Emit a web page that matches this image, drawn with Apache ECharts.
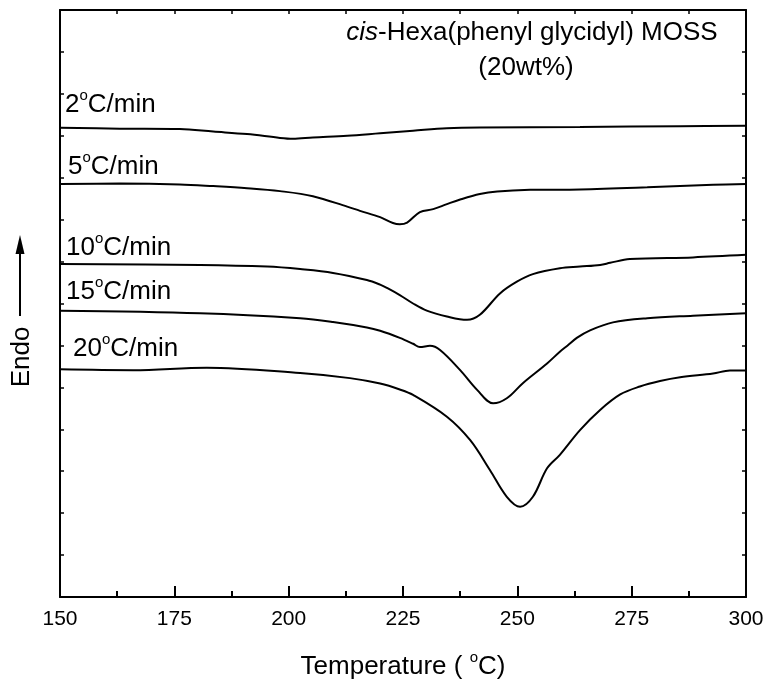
<!DOCTYPE html>
<html><head><meta charset="utf-8">
<script src="https://cdn.jsdelivr.net/npm/echarts@6/dist/echarts.min.js"></script>
<style>html,body{margin:0;padding:0;background:#fff}#c{width:768px;height:687px}</style>
</head><body><div id="c"></div>
<script>
// x axis ticks (°C)
const xMin = 150, xMax = 300, xStep = 25;
// heat flow in arbitrary units (endo up)
const t2  = [150, 163.1, 176.2, 183.5, 190.9, 198.1, 200.9, 205.3, 212.8, 220.0, 227.2, 234.6, 241.8, 263.7, 285.6, 300];
const hf2 = [11.19, 11.17, 11.16, 11.10, 11.04, 10.95, 10.93, 10.96, 11.00, 11.06, 11.12, 11.18, 11.20, 11.21, 11.23, 11.24];

const t5  = [150, 163.1, 176.2, 183.5, 190.9, 198.1, 205.3, 212.8, 215.6, 220.0, 222.8, 224.3, 225.9, 228.7, 231.6, 234.6, 237.5, 241.8, 245.6, 252.8, 263.7, 278.4, 292.8, 300];
const hf5 = [9.85, 9.86, 9.84, 9.80, 9.75, 9.68, 9.56, 9.31, 9.21, 9.06, 8.92, 8.89, 8.93, 9.18, 9.25, 9.37, 9.48, 9.61, 9.67, 9.71, 9.72, 9.77, 9.83, 9.85];

const t10  = [150, 180.6, 195.3, 202.5, 209.7, 217.1, 220.0, 221.5, 224.3, 227.2, 230.2, 234.6, 239.0, 241.8, 246.2, 249.9, 253.4, 259.3, 263.7, 268.1, 270.3, 274.6, 288.4, 300];
const hf10 = [7.94, 7.92, 7.88, 7.82, 7.73, 7.56, 7.45, 7.37, 7.20, 7.00, 6.83, 6.69, 6.61, 6.73, 7.24, 7.52, 7.70, 7.84, 7.88, 7.92, 7.97, 8.06, 8.10, 8.16];

const t15  = [150, 180.6, 202.5, 209.7, 217.1, 220.0, 224.3, 227.2, 228.7, 230.9, 233.1, 237.5, 241.2, 244.7, 247.7, 251.2, 256.5, 259.3, 261.0, 263.0, 265.9, 270.9, 278.4, 288.4, 300];
const hf15 = [6.83, 6.77, 6.65, 6.56, 6.43, 6.35, 6.18, 6.04, 5.96, 5.99, 5.89, 5.41, 4.94, 4.62, 4.74, 5.10, 5.57, 5.85, 6.00, 6.18, 6.36, 6.55, 6.65, 6.71, 6.77];

const t20  = [150, 166.0, 182.1, 202.5, 213.4, 220.0, 224.3, 227.2, 234.6, 239.7, 244.0, 247.7, 250.6, 253.4, 256.5, 259.3, 263.7, 268.1, 272.5, 276.8, 281.2, 285.6, 292.8, 296.5, 300];
const hf20 = [5.43, 5.41, 5.47, 5.34, 5.22, 5.09, 4.95, 4.82, 4.30, 3.74, 3.03, 2.39, 2.15, 2.39, 3.07, 3.39, 3.98, 4.46, 4.83, 5.02, 5.15, 5.24, 5.33, 5.40, 5.40];

const rateNames = ['2', '5', '10', '15', '20'];

const FF = '"Liberation Sans", Arial, Helvetica, sans-serif';
const pair = (t, v) => t.map((x, i) => [x, v[i]]);
const curves = [pair(t2, hf2), pair(t5, hf5), pair(t10, hf10), pair(t15, hf15), pair(t20, hf20)];

const chart = echarts.init(document.getElementById('c'), null, {renderer: 'canvas'});
const axisLineStyle = {color: '#000', width: 2};
const rich = {
  n: {fontSize: 26, fontFamily: FF, color: '#000', lineHeight: 34},
  s: {fontSize: 15, fontFamily: FF, color: '#000', lineHeight: 15, verticalAlign: 'top'},
  i: {fontSize: 26, fontFamily: FF, color: '#000', fontStyle: 'italic', lineHeight: 34}
};
function label(txt, x, y, align) {
  return {type: 'text', x: x, y: y, z: 100, style: {text: txt, rich: rich, align: align || 'left', verticalAlign: 'middle', fill: '#000'}};
}
const labelPos = [[65, 105], [68, 167], [66, 248], [66, 292], [73, 349]];
const graphics = rateNames.map((r, i) => label('{n|' + r + '}{s|o}{n|C/min}', labelPos[i][0], labelPos[i][1]));
graphics.push(label('{i|cis}{n|-Hexa(phenyl glycidyl) MOSS}', 532, 33, 'center'));
graphics.push(label('{n|(20wt%)}', 526, 68, 'center'));
graphics.push(label('{n|Temperature ( }{s|o}{n|C)}', 403, 667, 'center'));
graphics.push({type: 'text', x: 22, y: 357, rotation: Math.PI / 2, style: {text: 'Endo', font: '26px ' + FF, fill: '#000', align: 'center', verticalAlign: 'middle'}});
graphics.push({type: 'line', shape: {x1: 20, y1: 316, x2: 20, y2: 250}, style: {stroke: '#000', lineWidth: 2}});
graphics.push({type: 'polygon', shape: {points: [[20, 235], [15.5, 254], [24.5, 254]]}, style: {fill: '#000'}});

chart.setOption({
  animation: false,
  backgroundColor: '#fff',
  grid: {left: 60, right: 22, top: 10, bottom: 90},
  xAxis: [{
    type: 'value', min: xMin, max: xMax, interval: xStep, position: 'bottom',
    axisLine: {show: true, onZero: false, lineStyle: axisLineStyle},
    axisTick: {show: true, inside: true, length: 11, lineStyle: {color: '#000', width: 2}},
    minorTick: {show: true, splitNumber: 2, length: 6, lineStyle: {color: '#000', width: 2}},
    axisLabel: {fontSize: 21, color: '#000', margin: 12, fontFamily: FF},
    splitLine: {show: false}, minorSplitLine: {show: false}
  }, {
    type: 'value', min: xMin, max: xMax, interval: xStep, position: 'top',
    axisLine: {show: true, onZero: false, lineStyle: axisLineStyle},
    axisTick: {show: true, inside: true, length: 4, lineStyle: {color: '#000', width: 1.5}},
    minorTick: {show: true, splitNumber: 2, length: 4, lineStyle: {color: '#000', width: 1.5}},
    axisLabel: {show: false}, splitLine: {show: false}
  }],
  yAxis: [{
    type: 'value', min: 0, max: 14, interval: 1, position: 'left',
    axisLine: {show: true, onZero: false, lineStyle: axisLineStyle},
    axisTick: {show: true, inside: true, length: 4, lineStyle: {color: '#000', width: 1.5}},
    axisLabel: {show: false}, splitLine: {show: false}
  }, {
    type: 'value', min: 0, max: 14, interval: 1, position: 'right',
    axisLine: {show: true, onZero: false, lineStyle: axisLineStyle},
    axisTick: {show: true, inside: true, length: 4, lineStyle: {color: '#000', width: 1.5}},
    axisLabel: {show: false}, splitLine: {show: false}
  }],
  series: curves.map((d, i) => ({
    name: rateNames[i] + '°C/min', type: 'line', data: d, xAxisIndex: 0, yAxisIndex: 0,
    showSymbol: false, symbol: 'none', smooth: 0.35,
    lineStyle: {color: '#000', width: 2}
  })),
  graphic: graphics
});
</script></body></html>
